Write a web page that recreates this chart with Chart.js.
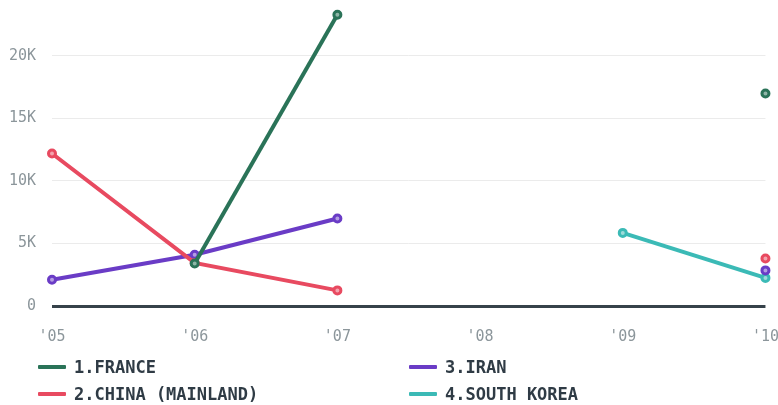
<!DOCTYPE html>
<html>
<head>
<meta charset="utf-8">
<script src="https://cdn.jsdelivr.net/npm/chart.js@4/dist/chart.umd.min.js"></script>
<style>
    html, body { margin: 0; padding: 0; background: #fff; overflow: hidden; }
    #wrap { position: absolute; top: -19px; left: 0; width: 793px; height: 379px; }
    #legend { position: absolute; top: 354px; left: 38px; width: 740px; font-family: 'DejaVu Sans Mono', monospace; font-weight: bold; font-size: 17px; color: #2f3b45; }
    .item { position: absolute; display: flex; align-items: center; height: 26px; }
    .swatch { width: 28px; height: 4px; margin-right: 8px; border-radius: 1px; }
</style>
</head>
<body>
<div id="wrap"><canvas id="chart" width="793" height="379"></canvas></div>
<div id="legend"></div>
<script>
const years = ["'05", "'06", "'07", "'08", "'09", "'10"];
const seriesNames = ['1.FRANCE', '2.CHINA (MAINLAND)', '3.IRAN', '4.SOUTH KOREA'];
const seriesColors = ['#2a7358', '#e84a60', '#6a3cc6', '#3bbab6'];
const pointFills = ['#8fb5a7', '#f3a3ae', '#b39de2', '#9ddbd9'];
const france = [null, 3400, 23300, null, null, 17000];
const china = [12200, 3450, 1250, null, null, 3800];
const iran = [2100, 4100, 7000, null, null, 2850];
const southKorea = [null, null, null, null, 5850, 2250];
const yTicks = [0, 5000, 10000, 15000, 20000];

const seriesValues = [france, china, iran, southKorea];

const datasets = seriesValues.map((values, i) => ({
    label: seriesNames[i],
    data: values,
    borderColor: seriesColors[i],
    backgroundColor: seriesColors[i],
    borderWidth: 4,
    pointRadius: 3.5,
    pointBorderWidth: 3,
    pointBackgroundColor: pointFills[i],
    pointBorderColor: seriesColors[i],
    spanGaps: false,
    tension: 0,
    clip: false,
}));

const tickFont = { family: "'DejaVu Sans Mono', monospace", size: 15 };

const chart = new Chart(document.getElementById('chart').getContext('2d'), {
    type: 'line',
    data: { labels: years, datasets },
    options: {
        responsive: false,
        animation: false,
        layout: { padding: { top: 5, right: 0, left: 0, bottom: 0 } },
        plugins: {
            legend: { display: false },
            tooltip: { enabled: false },
        },
        scales: {
            x: {
                offset: false,
                grid: { display: false },
                border: { display: false },
                ticks: { color: '#8c969b', font: tickFont, padding: 14, maxRotation: 0 },
            },
            y: {
                min: 0,
                max: 24000,
                afterFit: (scale) => { scale.width = 52; },
                afterBuildTicks: (scale) => { scale.ticks = yTicks.map((v) => ({ value: v })); },
                border: { display: false },
                grid: {
                    drawTicks: false,
                    color: (ctx) => (ctx.tick && ctx.tick.value === 0 ? '#36424a' : '#ebebeb'),
                    lineWidth: (ctx) => (ctx.tick && ctx.tick.value === 0 ? 3 : 1),
                },
                ticks: {
                    color: '#8c969b',
                    font: tickFont,
                    padding: 16,
                    callback: (v) => (v === 0 ? '0' : v / 1000 + 'K'),
                },
            },
        },
    },
});

// two-column legend below the chart
const legend = document.getElementById('legend');
chart.options.plugins.legend.labels.generateLabels(chart).forEach((item, i) => {
    const el = document.createElement('div');
    el.className = 'item';
    el.style.left = (i < 2 ? 0 : 371) + 'px';
    el.style.top = (i % 2) * 27 + 'px';
    el.innerHTML = '<span class="swatch" style="background:' + item.strokeStyle + '"></span>' + item.text;
    legend.appendChild(el);
});
</script>
</body>
</html>
